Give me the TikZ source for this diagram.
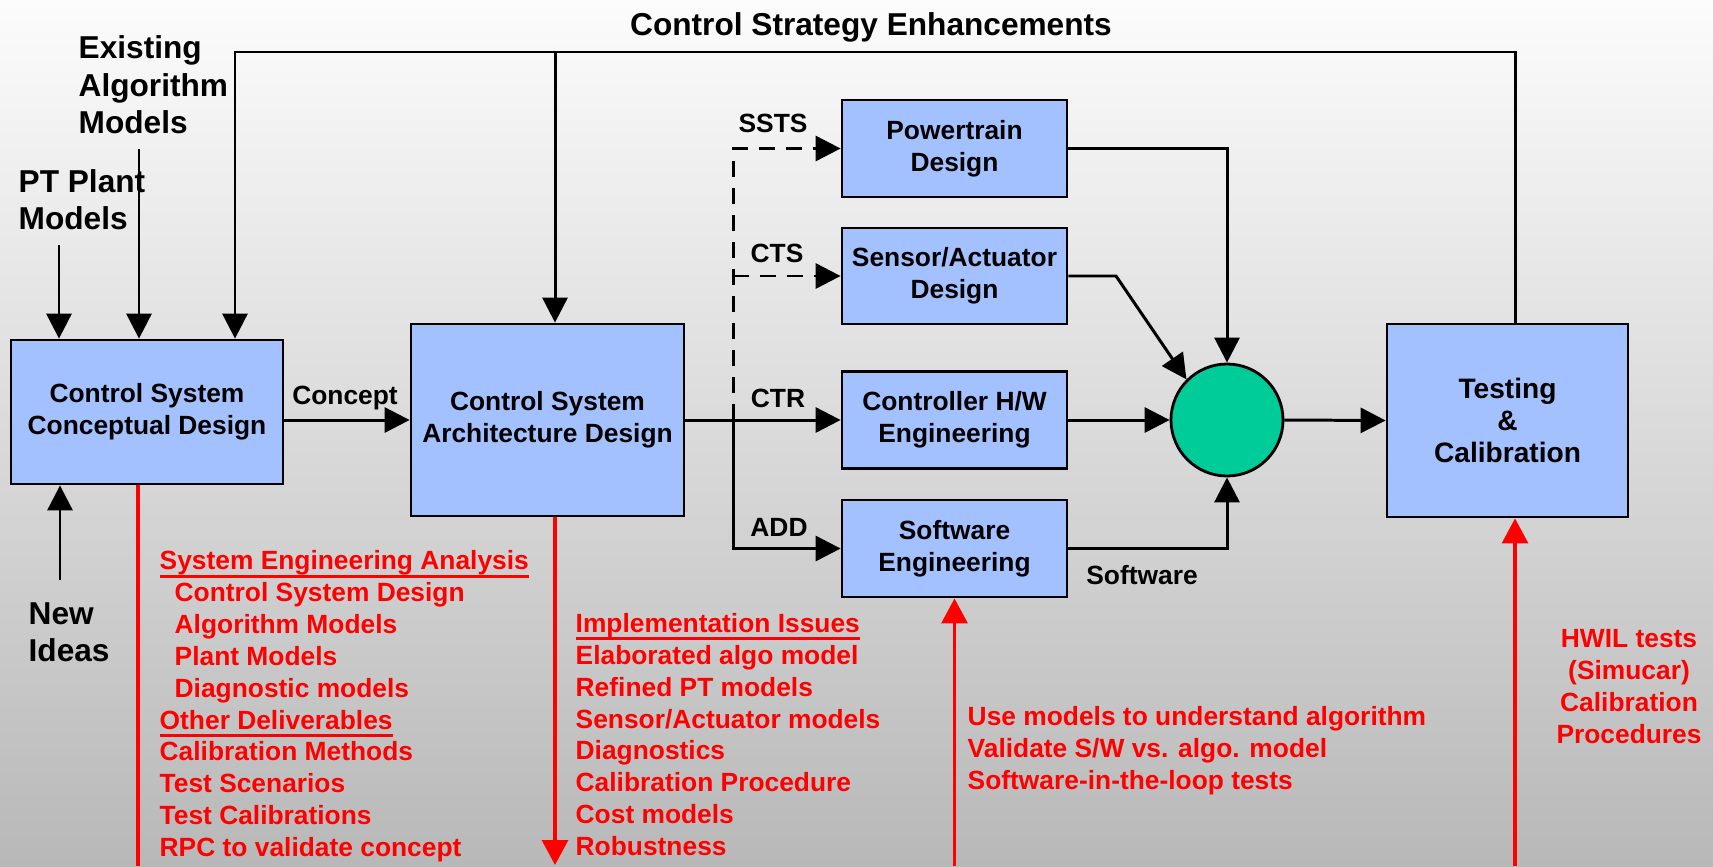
\documentclass[tikz,border=0pt]{standalone}
\usepackage{fontspec}
\setmainfont{Liberation Sans}
\usetikzlibrary{arrows.meta}

\definecolor{boxblue}{RGB}{163,192,255}
\definecolor{sumgreen}{RGB}{0,204,153}
\definecolor{bgtop}{RGB}{252,252,252}
\definecolor{bgbot}{RGB}{184,184,184}

% underline sitting just under the baseline
\newcommand\ulhead[1]{\setbox0\hbox{#1}\rlap{\rule[-2.3pt]{\wd0}{0.85pt}}#1}

\tikzset{
  blk/.style={draw=black, line width=0.8pt, fill=boxblue, align=center, inner sep=0pt,
    font=\bfseries\fontsize{7.5}{9.1}\selectfont},
  lbl/.style={font=\bfseries\fontsize{7.5}{9}\selectfont, inner sep=0pt, anchor=base},
  big/.style={font=\bfseries\fontsize{9}{10.6}\selectfont, inner sep=0pt, align=left},
  note/.style={text=red, font=\bfseries\fontsize{7.5}{9.07}\selectfont, inner sep=0pt},
  flow/.style={line width=0.85pt, -{Triangle[length=0.25cm,width=0.25cm]}},
  redline/.style={draw=red, line width=0.9pt},
  redflow/.style={redline, -{Triangle[length=0.25cm,width=0.26cm]}},
  dashflow/.style={flow, dash pattern=on 0.16cm off 0.11cm},
}

\begin{document}
\begin{tikzpicture}[auto]
  \shade[top color=bgtop, bottom color=bgbot] (0,0) rectangle (17.13,-8.66);
  \useasboundingbox (0,0) rectangle (17.13,-8.66);

  \begin{scope}[every node/.style={blk}]
    \node[minimum width=2.72cm, minimum height=1.44cm] (csd) at (1.47,-4.12) {Control System\\Conceptual Design};
    \node[minimum width=2.73cm, minimum height=1.92cm] (cad) at (5.475,-4.20) {Control System\\Architecture Design};
    \node[minimum width=2.25cm, minimum height=0.97cm] (ptd) at (9.545,-1.485) {Powertrain\\Design};
    \node[minimum width=2.25cm, minimum height=0.96cm] (sad) at (9.545,-2.76) {Sensor/Actuator\\Design};
    \node[minimum width=2.25cm, minimum height=0.97cm] (hwe) at (9.545,-4.20) {Controller H/W\\Engineering};
    \node[minimum width=2.25cm, minimum height=0.97cm] (swe) at (9.545,-5.485) {Software\\Engineering};
    \node[minimum width=2.41cm, minimum height=1.93cm, font=\bfseries\fontsize{8}{9.1}\selectfont] (tst) at (15.075,-4.205) {Testing\\\&\\Calibration};
  \end{scope}
  \node[circle, draw, line width=0.8pt, fill=sumgreen, minimum size=1.12cm, inner sep=0pt] (sum) at (12.27,-4.20) {};

  % inputs on the left
  \node[big, anchor=base] (cse) at (8.71,-0.35) {Control Strategy Enhancements};
  \node[big, anchor=base west] (exm) at (0.78,-1.334) {Existing\\Algorithm\\Models};
  \node[big, anchor=base west] (ptm) at (0.18,-2.294) {PT Plant\\Models};
  \node[big, anchor=base west] (nwi) at (0.28,-6.614) {New\\Ideas};
  \coordinate (ptin) at (0.59,-2.45);
  \coordinate (exin) at (1.39,-1.49);
  \coordinate (nwin) at (0.60,-5.80);
  \draw[flow] (ptin) -- (ptin |- csd.north);
  \draw[flow] (exin) -- (exin |- csd.north);
  \draw[flow] (nwin) -- (nwin |- csd.south);

  % feedback loop over the top
  \coordinate (topl) at (2.35,-0.52);
  \coordinate (topm) at (5.55,-0.52);
  \coordinate (topr) at (15.15,-0.52);
  \draw[flow] (tst.north -| topr) -- (topr) -- (topl) -- (topl |- csd.north);
  \draw[flow] (topm) -- (topm |- cad.north);

  \draw[flow] (cad.west -| csd.east) -- (cad.west);
  \node[lbl] (cpt) at (3.45,-4.045) {Concept};

  % fan out to the four design tasks
  \coordinate (br) at (7.33,-4.20);
  \draw[dashflow] (br) |- (ptd.west);
  \draw[dashflow] (br |- sad.west) -- (sad.west);
  \draw[line width=0.85pt] (cad.east) -- (br);
  \draw[flow] (br) -- (hwe.west);
  \draw[flow] (br) |- (swe.west);
  \node[lbl] (ssts) at (7.73,-1.325) {SSTS};
  \node[lbl] (cts) at (7.77,-2.625) {CTS};
  \node[lbl] (ctr) at (7.78,-4.075) {CTR};
  \node[lbl] (add) at (7.79,-5.365) {ADD};

  % merge into the sum and on to testing
  \coordinate (kink) at (11.16,-2.76);
  \draw[flow] (ptd.east) -| (sum.north);
  \draw[flow] (sad.east) -- (kink) -- (sum.135);
  \draw[flow] (hwe.east) -- (sum.west);
  \draw[flow] (swe.east) -| (sum.south);
  \draw[flow] (sum.east) -- (tst.west);
  \node[lbl] (sw) at (11.42,-5.845) {Software};

  % red deliverables
  \coordinate (bot1) at (1.38,-8.66);
  \coordinate (bot2) at (5.55,-8.65);
  \coordinate (bot4) at (15.15,-8.66);
  \draw[redline] (csd.south -| bot1) -- (bot1);
  \draw[redflow] (cad.south -| bot2) -- (bot2);
  \draw[redflow] (swe.south |- bot1) -- (swe.south);
  \draw[redflow] (bot4) -- (tst.south -| bot4);

  \node[note, align=left, anchor=base west] (sea) at (1.59,-8.565) {%
    \ulhead{System Engineering Analysis}\\
    \hspace*{0.15cm}Control System Design\\
    \hspace*{0.15cm}Algorithm Models\\
    \hspace*{0.15cm}Plant Models\\
    \hspace*{0.15cm}Diagnostic models\\
    \ulhead{Other Deliverables}\\
    Calibration Methods\\
    Test Scenarios\\
    Test Calibrations\\
    RPC to validate concept};
  \node[note, align=left, anchor=base west] (imp) at (5.75,-8.555) {%
    \ulhead{Implementation Issues}\\
    Elaborated algo model\\
    Refined PT models\\
    Sensor/Actuator models\\
    Diagnostics\\
    Calibration Procedure\\
    Cost models\\
    Robustness};
  \node[note, align=left, anchor=base west] (sil) at (9.67,-7.895) {%
    Use models to understand algorithm\\
    Validate S/W vs. algo. model\\
    Software-in-the-loop tests};
  \node[note, align=center, anchor=base] (hwil) at (16.29,-7.435) {%
    HWIL tests\\(Simucar)\\Calibration\\Procedures};
\end{tikzpicture}
\end{document}
